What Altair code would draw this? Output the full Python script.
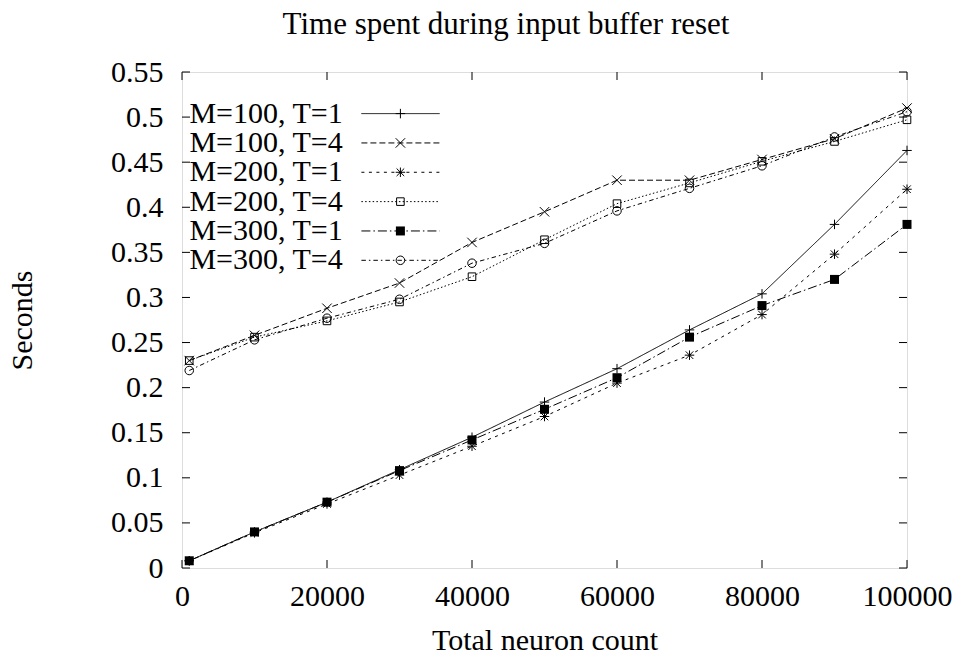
import altair as alt
import pandas as pd

# ---------------- data ----------------
x_values = [1000, 10000, 20000, 30000, 40000, 50000, 60000, 70000, 80000, 90000, 100000]
series_names = ["M=100, T=1", "M=100, T=4", "M=200, T=1", "M=200, T=4", "M=300, T=1", "M=300, T=4"]

m100_t1 = [0.008, 0.040, 0.073, 0.109, 0.145, 0.184, 0.221, 0.264, 0.304, 0.381, 0.463]
m100_t4 = [0.230, 0.258, 0.288, 0.316, 0.361, 0.395, 0.430, 0.430, 0.453, 0.476, 0.510]
m200_t1 = [0.008, 0.039, 0.071, 0.103, 0.135, 0.168, 0.205, 0.236, 0.281, 0.348, 0.420]
m200_t4 = [0.230, 0.256, 0.274, 0.295, 0.323, 0.364, 0.404, 0.427, 0.451, 0.473, 0.497]
m300_t1 = [0.008, 0.040, 0.073, 0.108, 0.142, 0.176, 0.211, 0.256, 0.291, 0.320, 0.381]
m300_t4 = [0.219, 0.253, 0.277, 0.298, 0.338, 0.360, 0.396, 0.421, 0.446, 0.478, 0.506]

y_ticks = [0, 0.05, 0.1, 0.15, 0.2, 0.25, 0.3, 0.35, 0.4, 0.45, 0.5, 0.55]
x_ticks = [0, 20000, 40000, 60000, 80000, 100000]
title_text = ["Time spent during input buffer reset"]

all_series = [m100_t1, m100_t4, m200_t1, m200_t4, m300_t1, m300_t4]
rows = []
for name, vals in zip(series_names, all_series):
    for xv, yv in zip(x_values, vals):
        rows.append({"series": name, "neurons": xv, "seconds": yv})
df = pd.DataFrame(rows)
legend_df = pd.DataFrame({"series": series_names})
ytick_df = pd.DataFrame({"v": y_ticks})
xtick_df = pd.DataFrame({"v": x_ticks})
title_df = pd.DataFrame({"t": title_text})

# ---------------- styling ----------------
W, H = 725, 496
FONT = "Liberation Serif"
FS = 30
FILLED = "M=300, T=1"

xscale = alt.Scale(domain=[0, 100000], nice=False, zero=False)
yscale = alt.Scale(domain=[0, 0.55], nice=False, zero=False)
dash_scale = alt.Scale(
    domain=series_names,
    range=[[1, 0], [6, 3], [3, 4.5], [1.5, 2.25], [9, 3, 1.5, 3], [4.5, 3, 1.5, 3]],
)
shape_scale = alt.Scale(
    domain=series_names,
    range=[
        "M-1,0L1,0M0,-1L0,1",
        "M-1,-1L1,1M-1,1L1,-1",
        "M-1,0L1,0M0,-1L0,1M-0.8,-0.8L0.8,0.8M-0.8,0.8L0.8,-0.8",
        "M-0.8,-0.8L0.8,-0.8L0.8,0.8L-0.8,0.8Z",
        "square",
        "M0.9,0A0.9,0.9,0,1,1,-0.9,0A0.9,0.9,0,1,1,0.9,0Z",
    ],
)
leg_scale = alt.Scale(type="point", domain=series_names, range=[41.6, 188.3], padding=0)

x_axis = alt.Axis(
    values=x_ticks, format="d", ticks=False, tickSize=0, domain=False, grid=False,
    labelFont=FONT, labelFontSize=FS, labelColor="black", labelPadding=37,
    labelBaseline="alphabetic", labelFlush=False, labelOverlap=False,
    titleFont=FONT, titleFontSize=FS, titleFontWeight="normal", titleColor="black",
    titleBaseline="alphabetic", titleX=W / 2, titleY=81, titleAlign="center",
)
y_axis = alt.Axis(
    values=y_ticks, format="~g", ticks=False, tickSize=0, domain=False, grid=False,
    labelFont=FONT, labelFontSize=FS, labelColor="black", labelPadding=19,
    labelBaseline="middle", labelFlush=False, labelOverlap=False,
    titleFont=FONT, titleFontSize=FS, titleFontWeight="normal", titleColor="black",
    titleAngle=270, titleBaseline="middle", titleX=-160, titleY=H / 2, titleAlign="center",
)

base = alt.Chart(df)
X = alt.X("neurons:Q", scale=xscale, axis=x_axis, title="Total neuron count")
Y = alt.Y("seconds:Q", scale=yscale, axis=y_axis, title="Seconds")
Xn = alt.X("neurons:Q", scale=xscale, axis=None)
Yn = alt.Y("seconds:Q", scale=yscale, axis=None)

lines = base.mark_line(color="black", strokeWidth=1).encode(
    x=X, y=Y,
    strokeDash=alt.StrokeDash("series:N", scale=dash_scale, legend=None),
    detail="series:N",
)
open_pts = base.transform_filter(alt.datum.series != FILLED).mark_point(
    filled=False, color="black", strokeWidth=1, size=90, opacity=1
).encode(x=Xn, y=Yn, shape=alt.Shape("series:N", scale=shape_scale, legend=None))
filled_pts = base.transform_filter(alt.datum.series == FILLED).mark_point(
    filled=True, color="black", shape="square", size=81, opacity=1
).encode(x=Xn, y=Yn)

# inward ticks on all four sides
tick_style = dict(color="black", strokeWidth=1)
yt = alt.Chart(ytick_df)
xt = alt.Chart(xtick_df)
ty = alt.Y("v:Q", scale=yscale, axis=None)
tx = alt.X("v:Q", scale=xscale, axis=None)
left_ticks = yt.mark_rule(**tick_style).encode(y=ty, x=alt.value(0), x2=alt.value(8))
right_ticks = yt.mark_rule(**tick_style).encode(y=ty, x=alt.value(W - 8), x2=alt.value(W))
bottom_ticks = xt.mark_rule(**tick_style).encode(x=tx, y=alt.value(H - 8), y2=alt.value(H))
top_ticks = xt.mark_rule(**tick_style).encode(x=tx, y=alt.value(0), y2=alt.value(8))

# legend (gnuplot style: text right-aligned, then sample)
leg = alt.Chart(legend_df)
LY = alt.Y("series:N", scale=leg_scale, axis=None)
leg_text = leg.mark_text(align="right", baseline="middle", font=FONT, fontSize=FS, color="black").encode(
    x=alt.value(160.7), y=LY, text="series:N"
)
leg_line = leg.mark_rule(color="black", strokeWidth=1).encode(
    x=alt.value(179.4), x2=alt.value(257.7), y=LY,
    strokeDash=alt.StrokeDash("series:N", scale=dash_scale, legend=None),
)
leg_open = leg.transform_filter(alt.datum.series != FILLED).mark_point(
    filled=False, color="black", strokeWidth=1, size=90, opacity=1
).encode(x=alt.value(218.4), y=LY, shape=alt.Shape("series:N", scale=shape_scale, legend=None))
leg_filled = leg.transform_filter(alt.datum.series == FILLED).mark_point(
    filled=True, color="black", shape="square", size=81, opacity=1
).encode(x=alt.value(218.4), y=LY)

# chart title as a text layer
title = alt.Chart(title_df).mark_text(
    align="center", baseline="alphabetic", font=FONT, fontSize=31, color="black"
).encode(x=alt.value(324), y=alt.value(-38), text="t:N")

chart = alt.layer(
    lines, open_pts, filled_pts,
    left_ticks, right_ticks, bottom_ticks, top_ticks,
    leg_text, leg_line, leg_open, leg_filled, title,
).resolve_scale(y="independent").resolve_axis(x="independent", y="independent").properties(
    width=W, height=H,
    padding={"left": 182, "top": 72, "right": 51, "bottom": 87},
    autosize=alt.AutoSizeParams(type="none"),
).configure_view(stroke="black", strokeWidth=1.5).configure(background="white")

chart.save("out.html", embed_options={"renderer": "svg", "actions": False})
